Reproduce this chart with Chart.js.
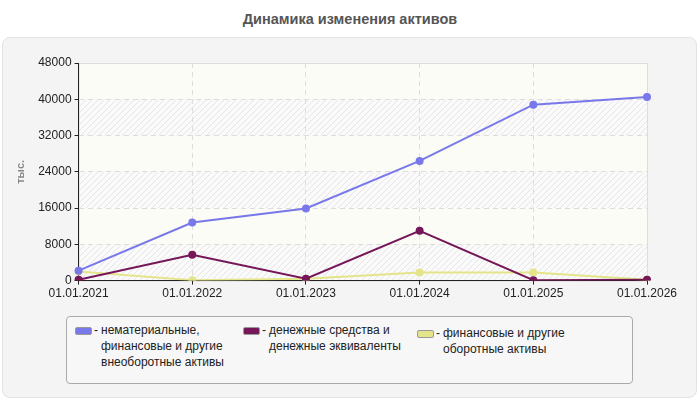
<!DOCTYPE html>
<html lang="ru">
<head>
<meta charset="UTF-8">
<title>Динамика изменения активов</title>
<script src="https://cdn.jsdelivr.net/npm/chart.js"></script>
<style>
    body { margin: 0; background: #fff; font-family: "Liberation Sans", Arial, sans-serif; }
    #wrap { position: relative; width: 700px; height: 400px; }
    #title { position: absolute; left: 0; top: 11px; width: 700px; text-align: center;
             font-size: 14.5px; font-weight: bold; color: #555; }
    #panel { position: absolute; left: 2px; top: 37px; width: 693px; height: 359px;
             background: #f4f4f4; border: 1px solid #e2e2e2; border-radius: 8px; }
    #chart { position: absolute; left: 0; top: 0; }
    #legend { position: absolute; left: 66px; top: 316px; width: 565px; height: 66px;
              border: 1px solid #aaa; border-radius: 4px; background: #f7f7f7;
              font-size: 12px; color: #222; line-height: 16px; }
    .item { position: absolute; display: flex; }
    .sw { width: 15px; height: 6px; border: 1px solid #999; border-radius: 2px; margin-top: 5px; }
    .dash { margin: 0 3px 0 2px; }
</style>
</head>
<body>
<div id="wrap">
    <div id="title">Динамика изменения активов</div>
    <div id="panel"></div>
    <canvas id="chart" width="700" height="400"></canvas>
    <div id="legend"></div>
</div>

<script>
    // данные
    const dates = ['01.01.2021', '01.01.2022', '01.01.2023', '01.01.2024', '01.01.2025', '01.01.2026'];
    const nonCurrent = [2200, 12800, 15900, 26400, 38800, 40500];
    const cash = [200, 5700, 400, 11000, 100, 200];
    const financial = [2000, 100, 400, 1800, 1800, 200];
    const seriesNames = [
        'нематериальные,<br>финансовые и другие<br>внеоборотные активы',
        'денежные средства и<br>денежные эквиваленты',
        'финансовые и другие<br>оборотные активы'
    ];
    const colors = ['#7878ea', '#751758', '#e4e48a'];
    const yTicks = [0, 8000, 16000, 24000, 32000, 40000, 48000];

    // полосы фона: чередуются однотонные и заштрихованные
    function hatch() {
        const c = document.createElement('canvas');
        c.width = 6; c.height = 6;
        const g = c.getContext('2d');
        g.fillStyle = '#fafafa';
        g.fillRect(0, 0, 6, 6);
        g.strokeStyle = '#e6e6e6';
        g.lineWidth = 1;
        g.beginPath();
        g.moveTo(0, 6); g.lineTo(6, 0);
        g.moveTo(-1, 1); g.lineTo(1, -1);
        g.moveTo(5, 7); g.lineTo(7, 5);
        g.stroke();
        return g.createPattern(c, 'repeat');
    }

    const bands = {
        id: 'bands',
        beforeDraw(chart) {
            const { ctx, chartArea: a, scales: { y } } = chart;
            const pat = hatch();
            ctx.save();
            for (let i = 0; i < yTicks.length - 1; i++) {
                const top = y.getPixelForValue(yTicks[i + 1]);
                const bot = y.getPixelForValue(yTicks[i]);
                ctx.fillStyle = i % 2 === 0 ? pat : '#fcfcf6';
                ctx.fillRect(a.left, top, a.right - a.left, bot - top);
            }
            ctx.strokeStyle = '#dddddd';
            ctx.strokeRect(a.left + 0.5, a.top + 0.5, a.right - a.left, a.bottom - a.top);
            ctx.restore();
        }
    };

    const mk = (label, data, color) => ({
        label, data,
        borderColor: color,
        backgroundColor: color,
        borderWidth: 2,
        pointRadius: 3,
        pointHoverRadius: 3,
        tension: 0
    });

    new Chart(document.getElementById('chart'), {
        type: 'line',
        data: {
            labels: dates,
            datasets: [
                mk('nonCurrent', nonCurrent, colors[0]),
                mk('cash', cash, colors[1]),
                mk('financial', financial, colors[2])
            ]
        },
        options: {
            responsive: false,
            animation: false,
            layout: { padding: { left: 14, right: 53, top: 63, bottom: 97 } },
            plugins: {
                legend: { display: false },
                tooltip: { enabled: false }
            },
            scales: {
                x: {
                    offset: false,
                    grid: { color: '#dddddd', tickLength: 4, tickColor: '#222' },
                    border: { color: '#222', dash: [5, 4] },
                    ticks: { color: '#222', font: { family: 'Liberation Sans', size: 12 }, maxRotation: 0, padding: 2 }
                },
                y: {
                    min: 0, max: 48000,
                    afterBuildTicks(s) { s.ticks = yTicks.map(v => ({ value: v })); },
                    grid: { color: '#dddddd', tickLength: 4, tickColor: '#222' },
                    border: { color: '#222', dash: [5, 4] },
                    ticks: { color: '#222', font: { family: 'Liberation Sans', size: 12 }, padding: 3,
                             callback: v => String(v) },
                    title: { display: true, text: 'тыс.', color: '#888',
                             font: { family: 'Liberation Sans', size: 11, weight: 'bold' }, padding: { top: 0, bottom: 8 } }
                }
            }
        },
        plugins: [bands]
    });

    // легенда
    const pos = [[8, 13], [176, 13], [350, 16]];
    const legend = document.getElementById('legend');
    seriesNames.forEach((name, i) => {
        const el = document.createElement('div');
        el.className = 'item';
        el.style.left = pos[i][0] + 'px';
        el.style.top = (pos[i][1] - 8) + 'px';
        el.innerHTML = '<div class="sw" style="background:' + colors[i] + '"></div>' +
                       '<span class="dash">-</span><span>' + name + '</span>';
        legend.appendChild(el);
    });
</script>
</body>
</html>
